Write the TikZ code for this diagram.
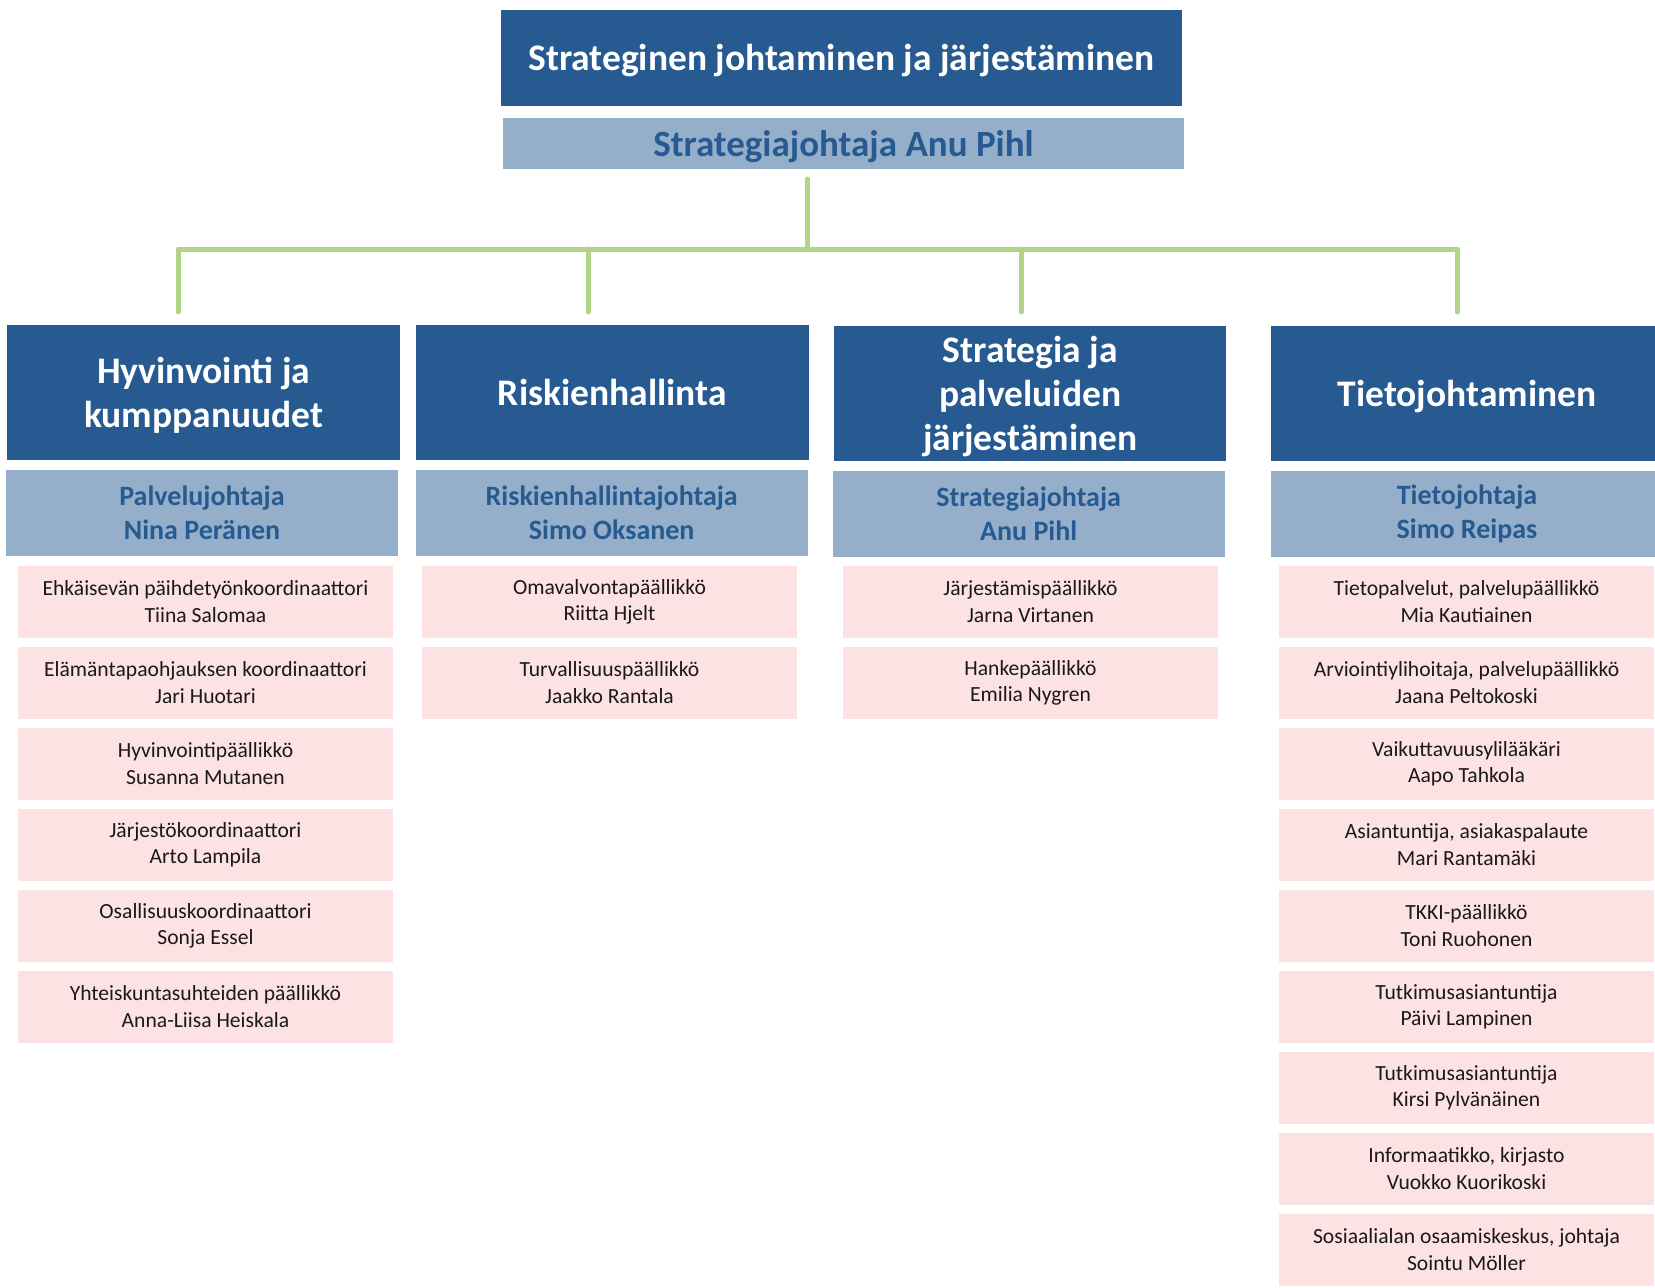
\documentclass[tikz,border=0pt]{standalone}
\usepackage{fontspec}
\setmainfont{Carlito}
\usetikzlibrary{positioning}
\definecolor{mydarkblue}{RGB}{38,90,145}
\definecolor{mylightblue}{RGB}{149,175,203}
\definecolor{mypink}{RGB}{253,226,228}
\definecolor{mygreen}{RGB}{178,212,134}
\definecolor{mytext}{RGB}{25,25,25}

\begin{document}
\begin{tikzpicture}[x=1pt, y=-1pt,
    headbox/.style={fill=mydarkblue, text=white, font=\fontsize{37.5}{44}\selectfont\bfseries,
        align=center, minimum width=392.5pt, minimum height=135pt, inner sep=0pt, outer sep=0pt,
        text depth=0pt},
    leadbox/.style={fill=mylightblue, text=mydarkblue, font=\fontsize{28}{34}\selectfont\bfseries,
        align=center, minimum width=392pt, minimum height=86pt, inner sep=0pt, outer sep=0pt},
    staffbox/.style={fill=mypink, text=mytext, font=\fontsize{21.6}{26.4}\selectfont,
        align=center, minimum width=375pt, minimum height=71.5pt, inner sep=0pt, outer sep=0pt},
    branch/.style={draw=mygreen, line width=5pt, line cap=round, line join=round}]
    \useasboundingbox (0,0) rectangle (1655,1288);

    % Title
    \node[headbox, minimum width=681pt, minimum height=96pt, font=\fontsize{37.5}{44}\selectfont\bfseries]
        (top) at (841.5,57.5) {Strateginen johtaminen ja järjestäminen};
    \node[leadbox, minimum width=681pt, minimum height=51pt, font=\fontsize{37}{40}\selectfont\bfseries,
        text depth=0pt] (toplead) at (843.5,143.5) {Strategiajohtaja Anu Pihl};

    % Tree
    \coordinate (trunk) at (807.5,179);
    \coordinate (bar) at (807.5,249);
    \coordinate (drop1) at (178,312);
    \coordinate (drop2) at (588,312);
    \coordinate (drop3) at (1021,312);
    \coordinate (drop4) at (1457,312);
    \draw[branch] (trunk) -- (bar);
    \draw[branch] (drop1) -- (drop1 |- bar) -- (drop4 |- bar) -- (drop4);
    \draw[branch] (drop2) -- (drop2 |- bar);
    \draw[branch] (drop3) -- (drop3 |- bar);

    % Hyvinvointi ja kumppanuudet
    \node[headbox] (hyv) at (203.7,392.5) {Hyvinvointi ja\\kumppanuudet};
    \node[leadbox] (hyvlead) at (202,513) {Palvelujohtaja\\Nina Peränen};
    \node[staffbox] (hyv1) at (205.5,601.75) {Ehkäisevän päihdetyönkoordinaattori\\Tiina Salomaa};
    \node[staffbox, below=9.5pt of hyv1] (hyv2) {Elämäntapaohjauksen koordinaattori\\Jari Huotari};
    \node[staffbox, below=9.5pt of hyv2] (hyv3) {Hyvinvointipäällikkö\\Susanna Mutanen};
    \node[staffbox, below=9.5pt of hyv3] (hyv4) {Järjestökoordinaattori\\Arto Lampila};
    \node[staffbox, below=9.5pt of hyv4] (hyv5) {Osallisuuskoordinaattori\\Sonja Essel};
    \node[staffbox, below=9.5pt of hyv5] (hyv6) {Yhteiskuntasuhteiden päällikkö\\Anna-Liisa Heiskala};

    % Riskienhallinta
    \node[headbox] (risk) at (612.3,392.5) {Riskienhallinta};
    \node[leadbox] (risklead) at (611.7,513) {Riskienhallintajohtaja\\Simo Oksanen};
    \node[staffbox] (risk1) at (609.5,601.75) {Omavalvontapäällikkö\\Riitta Hjelt};
    \node[staffbox, below=9.5pt of risk1] (risk2) {Turvallisuuspäällikkö\\Jaakko Rantala};

    % Strategia ja palveluiden järjestäminen
    \node[headbox] (strat) at (1030.2,393.5) {Strategia ja\\palveluiden\\järjestäminen};
    \node[leadbox] (stratlead) at (1028.7,514) {Strategiajohtaja\\Anu Pihl};
    \node[staffbox] (strat1) at (1030.5,601.75) {Järjestämispäällikkö\\Jarna Virtanen};
    \node[staffbox, below=9.5pt of strat1] (strat2) {Hankepäällikkö\\Emilia Nygren};

    % Tietojohtaminen
    \node[headbox] (tieto) at (1467,393.5) {Tietojohtaminen};
    \node[leadbox] (tietolead) at (1467,514) {Tietojohtaja\\Simo Reipas};
    \node[staffbox] (tieto1) at (1466.5,601.75) {Tietopalvelut, palvelupäällikkö\\Mia Kautiainen};
    \node[staffbox, below=9.5pt of tieto1] (tieto2) {Arviointiylihoitaja, palvelupäällikkö\\Jaana Peltokoski};
    \node[staffbox, below=9.5pt of tieto2] (tieto3) {Vaikuttavuusylilääkäri\\Aapo Tahkola};
    \node[staffbox, below=9.5pt of tieto3] (tieto4) {Asiantuntija, asiakaspalaute\\Mari Rantamäki};
    \node[staffbox, below=9.5pt of tieto4] (tieto5) {TKKI-päällikkö\\Toni Ruohonen};
    \node[staffbox, below=9.5pt of tieto5] (tieto6) {Tutkimusasiantuntija\\Päivi Lampinen};
    \node[staffbox, below=9.5pt of tieto6] (tieto7) {Tutkimusasiantuntija\\Kirsi Pylvänäinen};
    \node[staffbox, below=9.5pt of tieto7] (tieto8) {Informaatikko, kirjasto\\Vuokko Kuorikoski};
    \node[staffbox, below=9.5pt of tieto8] (tieto9) {Sosiaalialan osaamiskeskus, johtaja\\Sointu Möller};
\end{tikzpicture}
\end{document}
